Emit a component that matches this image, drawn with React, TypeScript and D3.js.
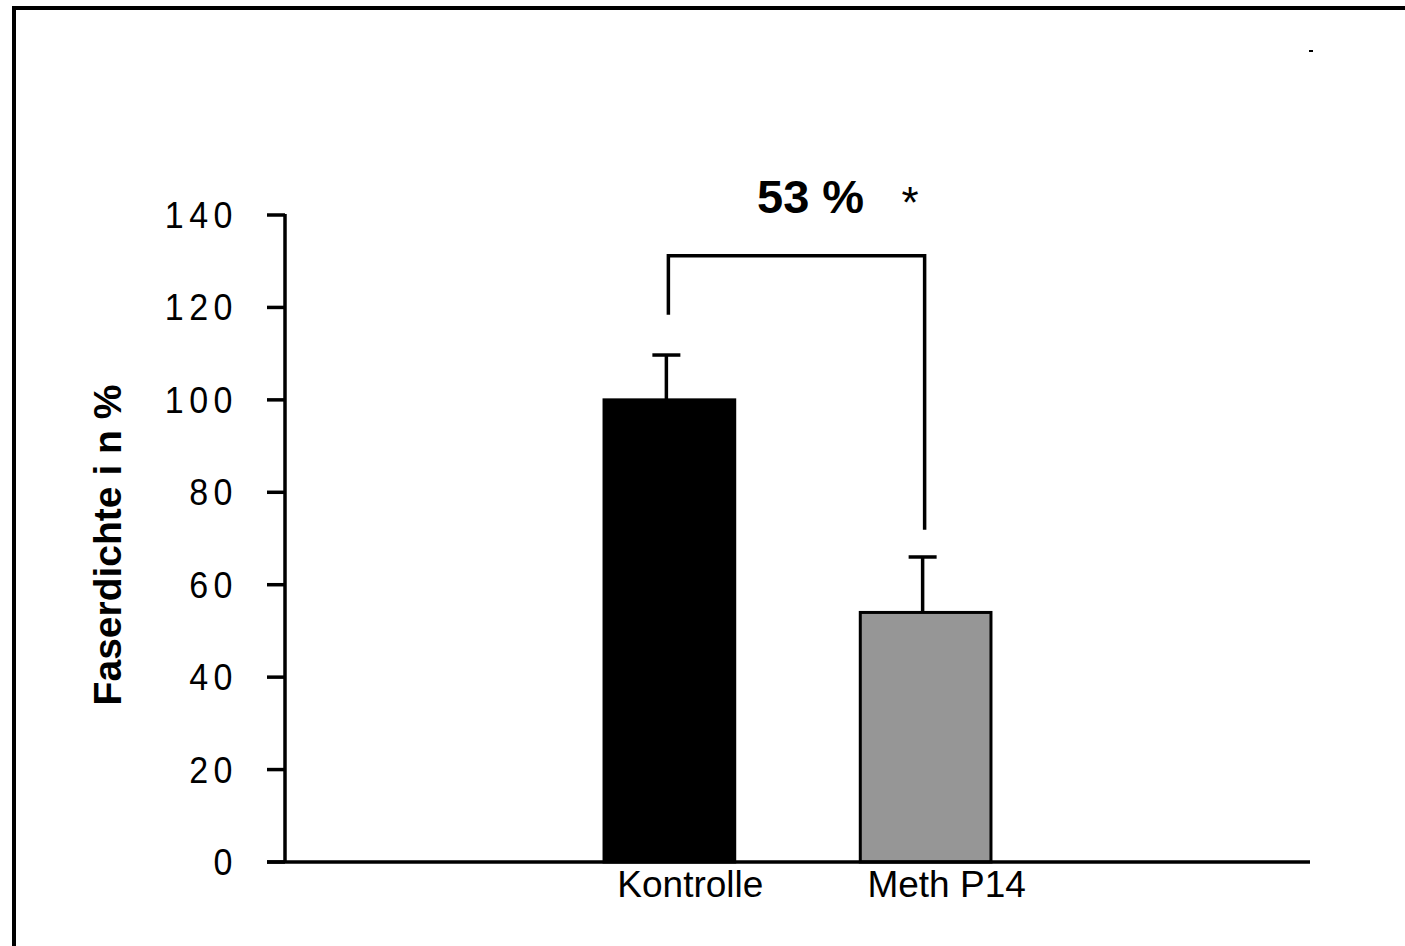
import React from 'react';
import * as d3 from 'd3';

// chart data
const categories = ['', 'Kontrolle', 'Meth P14', ' '];
const groups = ['Kontrolle', 'Meth P14'];
const means = [100, 54];
const errors = [9.7, 12];
const barColors = ['#000000', '#969696'];
const yTicks = [0, 20, 40, 60, 80, 100, 120, 140];
// bracket: left leg end, top, right leg end (in axis units)
const bracketLevels = [118.4, 131.2, 71.9];
const bracketLabel = '53 %';
const starLabel = '*';
const yLabel = 'Faserdichte i n %';

const W = 1405;
const H = 946;

const App = () => {
    const x = d3
        .scaleBand<string>()
        .domain(categories)
        .range([285, 1310])
        .paddingInner(0.49)
        .paddingOuter(0.245);

    const y = d3.scaleLinear().domain([0, 140]).range([862, 215]);

    const cx = (g: string) => (x(g) as number) + x.bandwidth() / 2;
    const font = 'Arial, "Liberation Sans", sans-serif';

    const bx1 = cx(groups[0]) - 1;
    const bx2 = cx(groups[1]) - 1;

    return (
        <svg width={W} height={H} style={{ position: 'absolute', left: 0, top: 0, background: '#fff' }}>
            {/* outer frame */}
            <rect x={14} y={8} width={1420} height={980} fill="none" stroke="#000" strokeWidth={4} />
            <rect x={1309} y={50} width={4} height={2} fill="#000" />

            {/* bars */}
            {groups.map((g, i) => (
                <g key={g}>
                    <line
                        x1={cx(g) - 3}
                        x2={cx(g) - 3}
                        y1={y(means[i])}
                        y2={y(means[i] + errors[i])}
                        stroke="#000"
                        strokeWidth={3.5}
                    />
                    <line
                        x1={cx(g) - 17}
                        x2={cx(g) + 11}
                        y1={y(means[i] + errors[i])}
                        y2={y(means[i] + errors[i])}
                        stroke="#000"
                        strokeWidth={3.5}
                    />
                    <rect
                        x={x(g)}
                        y={y(means[i])}
                        width={x.bandwidth()}
                        height={y(0) - y(means[i])}
                        fill={barColors[i]}
                        stroke="#000"
                        strokeWidth={3}
                    />
                    <text
                        x={cx(g) + 21}
                        y={897}
                        textAnchor="middle"
                        fontFamily={font}
                        fontSize={37}
                    >
                        {g}
                    </text>
                </g>
            ))}

            {/* y axis */}
            <line x1={285} x2={285} y1={y(140) - 1} y2={y(0)} stroke="#000" strokeWidth={3.5} />
            {yTicks.map((t) => (
                <g key={t}>
                    <line x1={267} x2={285} y1={y(t)} y2={y(t)} stroke="#000" strokeWidth={3.5} />
                    <text
                        x={238}
                        y={y(t)}
                        dy="0.36em"
                        textAnchor="end"
                        fontFamily={font}
                        fontSize={34}
                        letterSpacing={5.5}
                        transform={`translate(0,${y(t)}) scale(1,1.06) translate(0,${-y(t)})`}
                    >
                        {t}
                    </text>
                </g>
            ))}

            {/* x axis */}
            <line x1={267} x2={1310} y1={y(0)} y2={y(0)} stroke="#000" strokeWidth={3.5} />

            {/* significance bracket */}
            <path
                d={`M${bx1},${y(bracketLevels[0])}V${y(bracketLevels[1])}H${bx2}V${y(bracketLevels[2])}`}
                fill="none"
                stroke="#000"
                strokeWidth={3.5}
            />
            <text x={757} y={213} fontFamily={font} fontSize={47} fontWeight="bold">
                {bracketLabel}
            </text>
            <text x={910} y={218} textAnchor="middle" fontFamily={font} fontSize={44}>
                {starLabel}
            </text>

            {/* y label */}
            <text
                transform="translate(121,545) rotate(-90)"
                textAnchor="middle"
                fontFamily={font}
                fontSize={39}
                fontWeight="bold"
            >
                {yLabel}
            </text>
        </svg>
    );
};

export default App;
